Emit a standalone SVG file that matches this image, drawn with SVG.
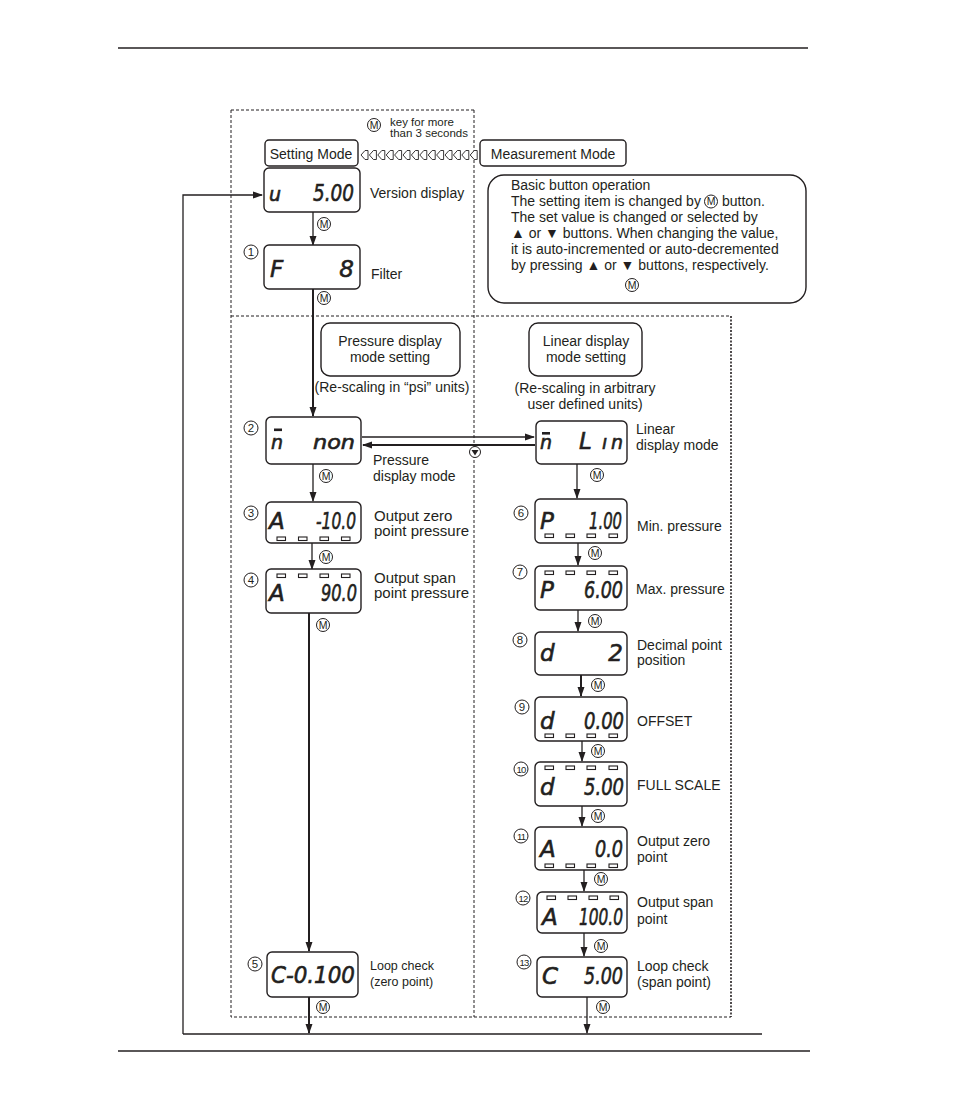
<svg xmlns="http://www.w3.org/2000/svg" width="954" height="1097" viewBox="0 0 954 1097">
<style>
.bx{fill:#fff;stroke:#231f20;stroke-width:1.4}
.ln{stroke:#231f20;stroke-width:1.3;fill:none}
.thk{stroke:#231f20;stroke-width:2;fill:none}
.dash{stroke:#231f20;stroke-width:1;fill:none;stroke-dasharray:3 2}
.dot{stroke:#231f20;stroke-width:1.6;fill:none;stroke-dasharray:2 1.5}
.t{font-family:"Liberation Sans",Arial,sans-serif;font-size:14px;fill:#231f20}
.t15{font-family:"Liberation Sans",Arial,sans-serif;font-size:15px;fill:#231f20}
.t12{font-family:"Liberation Sans",Arial,sans-serif;font-size:12.5px;fill:#231f20}
.t11{font-family:"Liberation Sans",Arial,sans-serif;font-size:11.5px;fill:#231f20}
.lcd{font-family:"DejaVu Sans",sans-serif;font-style:oblique;font-size:23px;fill:#231f20;stroke:#231f20;stroke-width:0.6}
.lcdr{font-family:"DejaVu Sans",sans-serif;font-style:oblique;font-size:23px;fill:#231f20;stroke:#231f20;stroke-width:0.6;text-anchor:end}
.lc{font-family:"DejaVu Sans",sans-serif;font-style:oblique;font-size:19px;fill:#231f20;stroke:#231f20;stroke-width:0.6}
.mc{fill:#fff;stroke:#231f20;stroke-width:1}
.mt{font-family:"Liberation Sans",Arial,sans-serif;font-size:10.5px;fill:#231f20;text-anchor:middle}
.nt{font-family:"Liberation Sans",Arial,sans-serif;font-size:11.5px;fill:#231f20;text-anchor:middle}
.nt2{font-family:"Liberation Sans",Arial,sans-serif;font-size:9.5px;fill:#231f20;text-anchor:middle;letter-spacing:-0.8px}
.seg{fill:#fff;stroke:#231f20;stroke-width:1.1}
</style>
<defs>
<marker id="ah" markerWidth="10" markerHeight="8" refX="9" refY="4" orient="auto" markerUnits="userSpaceOnUse">
<path d="M0,0.5 L10,4 L0,7.5 Z" fill="#231f20"/>
</marker>
<path id="dia" d="M0,0 L4,-4.5 L7,-4.5 L7,4.5 L4,4.5 Z"/>
</defs>

<!-- page rules -->
<line x1="118" y1="48" x2="808" y2="48" stroke="#231f20" stroke-width="1.3"/>
<line x1="118" y1="1051" x2="810" y2="1051" stroke="#231f20" stroke-width="1.3"/>

<!-- dashed frames -->
<g id="frames">
<path class="dash" d="M231,110 H474 M231,110 V1017 H731 M474,110 V1017 M231,316 H731"/>
<path class="dot" d="M731,316 V1017"/>
</g>

<!-- connectors -->
<g id="connectors">
<path class="ln" d="M183,1034 V195 H262" marker-end="url(#ah)"/>
<line class="ln" x1="183" y1="1034" x2="762" y2="1034"/>
<line class="ln" x1="313" y1="212" x2="313" y2="245" marker-end="url(#ah)"/>
<line class="thk" x1="313" y1="289" x2="313" y2="416" marker-end="url(#ah)"/>
<line class="ln" x1="313" y1="464" x2="313" y2="501" marker-end="url(#ah)"/>
<line class="ln" x1="312" y1="543" x2="312" y2="569" marker-end="url(#ah)"/>
<line class="thk" x1="309" y1="613" x2="309" y2="951" marker-end="url(#ah)"/>
<line class="thk" x1="309" y1="997" x2="309" y2="1033" marker-end="url(#ah)"/>
<line class="ln" x1="362" y1="437" x2="534" y2="437" marker-end="url(#ah)"/>
<line class="thk" x1="535" y1="445" x2="363" y2="445" marker-end="url(#ah)"/>
<line class="ln" x1="577" y1="464" x2="577" y2="498" marker-end="url(#ah)"/>
<line class="ln" x1="578" y1="543" x2="578" y2="565" marker-end="url(#ah)"/>
<line class="ln" x1="578" y1="610" x2="578" y2="631" marker-end="url(#ah)"/>
<line class="thk" x1="581" y1="675" x2="581" y2="696" marker-end="url(#ah)"/>
<line class="ln" x1="582" y1="741" x2="582" y2="761" marker-end="url(#ah)"/>
<line class="ln" x1="582" y1="806" x2="582" y2="826" marker-end="url(#ah)"/>
<line class="ln" x1="584" y1="870" x2="584" y2="891" marker-end="url(#ah)"/>
<line class="ln" x1="584" y1="933" x2="584" y2="956" marker-end="url(#ah)"/>
<line class="ln" x1="587" y1="997" x2="587" y2="1033" marker-end="url(#ah)"/>
<!-- diamond chain -->
<g fill="#fff" stroke="#231f20" stroke-width="0.9">
<use href="#dia" x="361" y="155"/><use href="#dia" x="369.4" y="155"/><use href="#dia" x="377.8" y="155"/><use href="#dia" x="386.2" y="155"/><use href="#dia" x="394.6" y="155"/><use href="#dia" x="403" y="155"/><use href="#dia" x="411.4" y="155"/><use href="#dia" x="419.8" y="155"/><use href="#dia" x="428.2" y="155"/><use href="#dia" x="436.6" y="155"/><use href="#dia" x="445" y="155"/><use href="#dia" x="453.4" y="155"/><use href="#dia" x="461.8" y="155"/><use href="#dia" x="470.2" y="155"/>
</g>
<!-- circled down key -->
<g transform="translate(475,452)"><circle r="5.5" class="mc"/><path d="M-3.5,-2 H3.5 L0,3.5 Z" fill="#231f20"/></g>
</g>

<!-- M key marks -->
<g id="mkeys">
<g transform="translate(374,125)"><circle r="6.5" class="mc"/><text y="3.8" class="mt">M</text></g>
<g transform="translate(324,224)"><circle r="6.5" class="mc"/><text y="3.8" class="mt">M</text></g>
<g transform="translate(324,298)"><circle r="6.5" class="mc"/><text y="3.8" class="mt">M</text></g>
<g transform="translate(326,476)"><circle r="6.5" class="mc"/><text y="3.8" class="mt">M</text></g>
<g transform="translate(326,557)"><circle r="6.5" class="mc"/><text y="3.8" class="mt">M</text></g>
<g transform="translate(323,625)"><circle r="6.5" class="mc"/><text y="3.8" class="mt">M</text></g>
<g transform="translate(323,1007)"><circle r="6.5" class="mc"/><text y="3.8" class="mt">M</text></g>
<g transform="translate(597,475)"><circle r="6.5" class="mc"/><text y="3.8" class="mt">M</text></g>
<g transform="translate(595,553)"><circle r="6.5" class="mc"/><text y="3.8" class="mt">M</text></g>
<g transform="translate(595,621)"><circle r="6.5" class="mc"/><text y="3.8" class="mt">M</text></g>
<g transform="translate(598,685)"><circle r="6.5" class="mc"/><text y="3.8" class="mt">M</text></g>
<g transform="translate(598,751)"><circle r="6.5" class="mc"/><text y="3.8" class="mt">M</text></g>
<g transform="translate(598,816)"><circle r="6.5" class="mc"/><text y="3.8" class="mt">M</text></g>
<g transform="translate(601,879)"><circle r="6.5" class="mc"/><text y="3.8" class="mt">M</text></g>
<g transform="translate(601,946)"><circle r="6.5" class="mc"/><text y="3.8" class="mt">M</text></g>
<g transform="translate(603,1007)"><circle r="6.5" class="mc"/><text y="3.8" class="mt">M</text></g>
</g>

<!-- top texts -->
<g id="keynote">
<text class="t11" x="390" y="126">key for more</text>
<text class="t11" x="390" y="137">than 3 seconds</text>
</g>

<g id="setting-mode">
<rect class="bx" x="265" y="140" width="93" height="26" rx="4"/>
<text class="t" x="311" y="159" text-anchor="middle">Setting Mode</text>
</g>
<g id="measurement-mode">
<rect class="bx" x="480" y="140" width="146" height="26" rx="4"/>
<text class="t" x="553" y="159" text-anchor="middle">Measurement Mode</text>
</g>

<g id="basic-op">
<rect class="bx" x="488" y="175" width="318" height="128" rx="16"/>
<text class="t" x="511" y="190">Basic button operation</text>
<text class="t" x="511" y="206">The setting item is changed by</text>
<g transform="translate(711,201.5)"><circle r="6.5" class="mc"/><text y="3.8" class="mt">M</text></g>
<text class="t" x="722" y="206">button.</text>
<text class="t" x="511" y="222">The set value is changed or selected by</text>
<text class="t" x="511" y="238">▲ or ▼ buttons. When changing the value,</text>
<text class="t" x="511" y="254">it is auto-incremented or auto-decremented</text>
<text class="t" x="511" y="270">by pressing ▲ or ▼ buttons, respectively.</text>
<g transform="translate(632,285)"><circle r="6.5" class="mc"/><text y="3.8" class="mt">M</text></g>
</g>

<g id="version">
<rect class="bx" x="264" y="168" width="96" height="44" rx="5"/>
<text class="lc" x="269" y="201">u</text>
<text class="lcdr" x="354" y="201" textLength="41" lengthAdjust="spacingAndGlyphs">5.00</text>
<text class="t" x="370" y="198">Version display</text>
</g>

<g id="filter">
<rect class="bx" x="264" y="245" width="96" height="44" rx="5"/>
<g transform="translate(251,252)"><circle r="7" class="mc"/><text y="4.2" class="nt">1</text></g>
<text class="lcd" x="270" y="277">F</text>
<text class="lcdr" x="354" y="277">8</text>
<text class="t" x="371" y="279">Filter</text>
</g>

<g id="pressure-setting">
<rect class="bx" x="321" y="323" width="139" height="53" rx="9"/>
<text class="t" x="390" y="346" text-anchor="middle">Pressure display</text>
<text class="t" x="390" y="362" text-anchor="middle">mode setting</text>
<text class="t" x="392" y="392" text-anchor="middle">(Re-scaling in “psi” units)</text>
</g>

<g id="linear-setting">
<rect class="bx" x="529" y="323" width="113" height="53" rx="9"/>
<text class="t" x="586" y="346" text-anchor="middle">Linear display</text>
<text class="t" x="586" y="362" text-anchor="middle">mode setting</text>
<text class="t" x="585" y="393" text-anchor="middle">(Re-scaling in arbitrary</text>
<text class="t" x="585" y="409" text-anchor="middle">user defined units)</text>
</g>

<g id="n2">
<rect class="bx" x="266" y="417" width="95" height="47" rx="5"/>
<g transform="translate(251,428)"><circle r="7" class="mc"/><text y="4.2" class="nt">2</text></g>
<rect x="274" y="428.5" width="8" height="2.6" fill="#231f20"/>
<text class="lc" x="271" y="449">n</text>
<text class="lc" x="355" y="449" text-anchor="end" textLength="42" lengthAdjust="spacingAndGlyphs">non</text>
<text class="t" x="373" y="465">Pressure</text>
<text class="t" x="373" y="481">display mode</text>
</g>

<g id="n3">
<rect class="bx" x="266" y="502" width="95" height="41" rx="5"/>
<g transform="translate(251,513)"><circle r="7" class="mc"/><text y="4.2" class="nt">3</text></g>
<text class="lcd" x="269" y="529">A</text>
<text class="lcdr" x="356" y="529" textLength="40" lengthAdjust="spacingAndGlyphs">-10.0</text>
<rect class="seg" x="277" y="537" width="8.5" height="3.5"/><rect class="seg" x="298.5" y="537" width="8.5" height="3.5"/><rect class="seg" x="320" y="537" width="8.5" height="3.5"/><rect class="seg" x="341.5" y="537" width="8.5" height="3.5"/>
<text class="t15" x="374" y="521">Output zero</text>
<text class="t15" x="374" y="536">point pressure</text>
</g>

<g id="n4">
<rect class="bx" x="266" y="569" width="95" height="44" rx="5"/>
<g transform="translate(251,580)"><circle r="7" class="mc"/><text y="4.2" class="nt">4</text></g>
<rect class="seg" x="277" y="574" width="8.5" height="3.5"/><rect class="seg" x="298.5" y="574" width="8.5" height="3.5"/><rect class="seg" x="320" y="574" width="8.5" height="3.5"/><rect class="seg" x="341.5" y="574" width="8.5" height="3.5"/>
<text class="lcd" x="269" y="601">A</text>
<text class="lcdr" x="357" y="601" textLength="36" lengthAdjust="spacingAndGlyphs">90.0</text>
<text class="t15" x="374" y="583">Output span</text>
<text class="t15" x="374" y="598">point pressure</text>
</g>

<g id="n5">
<rect class="bx" x="267" y="952" width="91" height="45" rx="5"/>
<g transform="translate(255,964)"><circle r="7" class="mc"/><text y="4.2" class="nt">5</text></g>
<text class="lcd" x="271" y="983" textLength="84" lengthAdjust="spacingAndGlyphs">C-0.100</text>
<text class="t12" x="370" y="970">Loop check</text>
<text class="t12" x="370" y="986">(zero point)</text>
</g>

<g id="lin">
<rect class="bx" x="536" y="421" width="91" height="43" rx="5"/>
<rect x="542" y="432" width="8" height="2.6" fill="#231f20"/>
<text class="lc" x="540" y="449">n</text>
<text class="lcd" y="449"><tspan x="579">L</tspan><tspan x="602" class="lc">ı</tspan><tspan x="611" class="lc">n</tspan></text>
<text class="t" x="636" y="434">Linear</text>
<text class="t" x="636" y="450">display mode</text>
</g>

<g id="n6">
<rect class="bx" x="535" y="499" width="92" height="44" rx="5"/>
<g transform="translate(521,513)"><circle r="7" class="mc"/><text y="4.2" class="nt">6</text></g>
<text class="lcd" x="540" y="529">P</text>
<text class="lcdr" x="622" y="529" textLength="33" lengthAdjust="spacingAndGlyphs">1.00</text>
<rect class="seg" x="545" y="534" width="8.5" height="3.5"/><rect class="seg" x="566" y="534" width="8.5" height="3.5"/><rect class="seg" x="587" y="534" width="8.5" height="3.5"/><rect class="seg" x="609" y="534" width="8.5" height="3.5"/>
<text class="t" x="637" y="531">Min. pressure</text>
</g>

<g id="n7">
<rect class="bx" x="535" y="566" width="92" height="44" rx="5"/>
<g transform="translate(520,572)"><circle r="7" class="mc"/><text y="4.2" class="nt">7</text></g>
<rect class="seg" x="545" y="571" width="8.5" height="3.5"/><rect class="seg" x="566" y="571" width="8.5" height="3.5"/><rect class="seg" x="587" y="571" width="8.5" height="3.5"/><rect class="seg" x="609" y="571" width="8.5" height="3.5"/>
<text class="lcd" x="540" y="598">P</text>
<text class="lcdr" x="623" y="598" textLength="39" lengthAdjust="spacingAndGlyphs">6.00</text>
<text class="t" x="636" y="594">Max. pressure</text>
</g>

<g id="n8">
<rect class="bx" x="535" y="632" width="92" height="43" rx="5"/>
<g transform="translate(520,640)"><circle r="7" class="mc"/><text y="4.2" class="nt">8</text></g>
<text class="lcd" x="540" y="661">d</text>
<text class="lcdr" x="623" y="661">2</text>
<text class="t" x="637" y="650">Decimal point</text>
<text class="t" x="637" y="665">position</text>
</g>

<g id="n9">
<rect class="bx" x="535" y="697" width="92" height="44" rx="5"/>
<g transform="translate(522,707)"><circle r="7" class="mc"/><text y="4.2" class="nt">9</text></g>
<text class="lcd" x="540" y="729">d</text>
<text class="lcdr" x="624" y="729" textLength="40" lengthAdjust="spacingAndGlyphs">0.00</text>
<rect class="seg" x="545" y="734" width="8.5" height="3.5"/><rect class="seg" x="566" y="734" width="8.5" height="3.5"/><rect class="seg" x="587" y="734" width="8.5" height="3.5"/><rect class="seg" x="609" y="734" width="8.5" height="3.5"/>
<text class="t" x="637" y="726">OFFSET</text>
</g>

<g id="n10">
<rect class="bx" x="535" y="762" width="92" height="44" rx="5"/>
<g transform="translate(521,769)"><circle r="7" class="mc"/><text y="3.6" class="nt2">10</text></g>
<rect class="seg" x="545" y="766" width="8.5" height="3.5"/><rect class="seg" x="566" y="766" width="8.5" height="3.5"/><rect class="seg" x="587" y="766" width="8.5" height="3.5"/><rect class="seg" x="609" y="766" width="8.5" height="3.5"/>
<text class="lcd" x="540" y="795">d</text>
<text class="lcdr" x="624" y="795" textLength="40" lengthAdjust="spacingAndGlyphs">5.00</text>
<text class="t" x="637" y="790">FULL SCALE</text>
</g>

<g id="n11">
<rect class="bx" x="535" y="827" width="92" height="43" rx="5"/>
<g transform="translate(521,836)"><circle r="7" class="mc"/><text y="3.6" class="nt2">11</text></g>
<text class="lcd" x="540" y="857">A</text>
<text class="lcdr" x="623" y="857" textLength="28" lengthAdjust="spacingAndGlyphs">0.0</text>
<rect class="seg" x="545" y="864" width="8.5" height="3.5"/><rect class="seg" x="566" y="864" width="8.5" height="3.5"/><rect class="seg" x="587" y="864" width="8.5" height="3.5"/><rect class="seg" x="609" y="864" width="8.5" height="3.5"/>
<text class="t" x="637" y="846">Output zero</text>
<text class="t" x="637" y="862">point</text>
</g>

<g id="n12">
<rect class="bx" x="537" y="892" width="90" height="41" rx="5"/>
<g transform="translate(523,898)"><circle r="7" class="mc"/><text y="3.6" class="nt2">12</text></g>
<rect class="seg" x="547" y="896" width="8.5" height="3.5"/><rect class="seg" x="568" y="896" width="8.5" height="3.5"/><rect class="seg" x="589" y="896" width="8.5" height="3.5"/><rect class="seg" x="610" y="896" width="8.5" height="3.5"/>
<text class="lcd" x="542" y="925">A</text>
<text class="lcdr" x="623" y="925" textLength="44" lengthAdjust="spacingAndGlyphs">100.0</text>
<text class="t" x="637" y="907">Output span</text>
<text class="t" x="637" y="924">point</text>
</g>

<g id="n13">
<rect class="bx" x="537" y="957" width="90" height="40" rx="5"/>
<g transform="translate(524,962)"><circle r="7" class="mc"/><text y="3.6" class="nt2">13</text></g>
<text class="lcd" x="542" y="984">C</text>
<text class="lcdr" x="623" y="984" textLength="39" lengthAdjust="spacingAndGlyphs">5.00</text>
<text class="t" x="637" y="971">Loop check</text>
<text class="t" x="637" y="987">(span point)</text>
</g>
</svg>
